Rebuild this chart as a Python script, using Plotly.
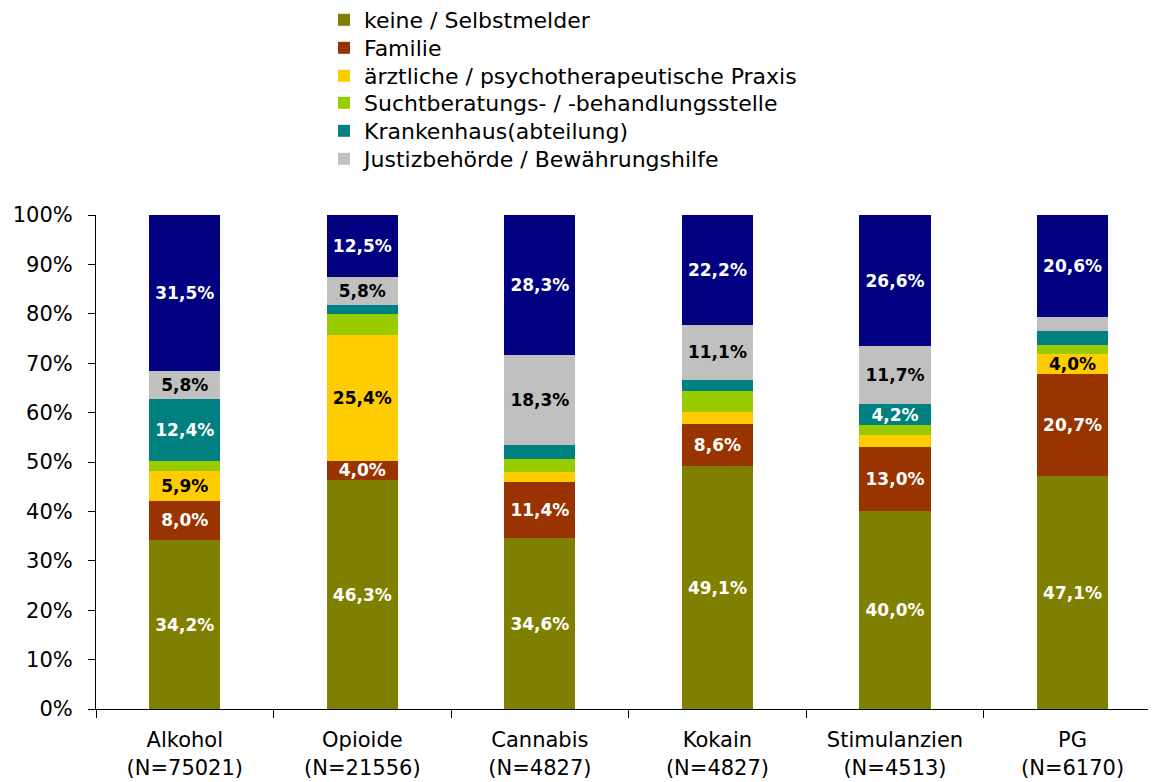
import plotly.graph_objects as go

categories = ["Alkohol", "Opioide", "Cannabis", "Kokain", "Stimulanzien", "PG"]
n_values = [75021, 21556, 4827, 4827, 4513, 6170]

series_names = [
    "keine / Selbstmelder",
    "Familie",
    "ärztliche / psychotherapeutische Praxis",
    "Suchtberatungs- / -behandlungsstelle",
    "Krankenhaus(abteilung)",
    "Justizbehörde / Bewährungshilfe",
    "sonstige",
]
keine = [34.2, 46.3, 34.6, 49.1, 40.0, 47.1]
familie = [8.0, 4.0, 11.4, 8.6, 13.0, 20.7]
praxis = [5.9, 25.4, 2.0, 2.4, 2.4, 4.0]
sucht = [2.2, 4.3, 2.6, 4.3, 2.1, 1.9]
krankenhaus = [12.4, 1.7, 2.8, 2.3, 4.2, 2.8]
justiz = [5.8, 5.8, 18.3, 11.1, 11.7, 2.9]
sonstige = [31.5, 12.5, 28.3, 22.2, 26.6, 20.6]

# which segments carry a data label
show_keine = [1, 1, 1, 1, 1, 1]
show_familie = [1, 1, 1, 1, 1, 1]
show_praxis = [1, 1, 0, 0, 0, 1]
show_sucht = [0, 0, 0, 0, 0, 0]
show_krankenhaus = [1, 0, 0, 0, 1, 0]
show_justiz = [1, 1, 1, 1, 1, 0]
show_sonstige = [1, 1, 1, 1, 1, 1]

colors = ["#808000", "#993300", "#FFCC00", "#99CC00", "#008080", "#C0C0C0", "#000080"]
label_colors = ["white", "white", "black", "black", "white", "black", "white"]

series = [keine, familie, praxis, sucht, krankenhaus, justiz, sonstige]
shows = [show_keine, show_familie, show_praxis, show_sucht, show_krankenhaus, show_justiz, show_sonstige]

FONT = "DejaVu Sans, Liberation Sans, sans-serif"

# page geometry (page is offset by 8px)
PLOT_LEFT, PLOT_RIGHT, PLOT_TOP, PLOT_BOTTOM = 96, 1156, 215, 709
legend_x_px = 324
legend_rows_px = [20, 48, 76, 103, 131, 159]


def px_to_paper_x(px):
    return (px - PLOT_LEFT) / (PLOT_RIGHT - PLOT_LEFT)


def px_to_paper_y(py):
    return (PLOT_BOTTOM - py) / (PLOT_BOTTOM - PLOT_TOP)


fig = go.Figure()
legend_ids = ["legend", "legend2", "legend3", "legend4", "legend5", "legend6"]
for i, (name, vals, show, col, lcol) in enumerate(zip(series_names, series, shows, colors, label_colors)):
    texts = [(f"{v:.1f}%".replace(".", ",") if s else "") for v, s in zip(vals, show)]
    kw = {}
    if i < len(legend_ids):
        kw["legend"] = legend_ids[i]
    fig.add_trace(go.Bar(
        x=categories,
        y=vals,
        name=name,
        marker=dict(color=col, line=dict(width=0)),
        text=texts,
        textposition="inside",
        insidetextanchor="middle",
        textangle=0,
        constraintext="none",
        textfont=dict(family=FONT, size=17, color=lcol, weight="bold"),
        showlegend=(i < len(legend_ids)),
        hoverinfo="x+y+name",
        **kw,
    ))

ticktext = [f"{c}<br>(N={n})" for c, n in zip(categories, n_values)]

layout_legends = {}
for lid, row in zip(legend_ids, legend_rows_px):
    layout_legends[lid] = dict(
        x=px_to_paper_x(legend_x_px), y=px_to_paper_y(row),
        xanchor="left", yanchor="middle",
        font=dict(family=FONT, size=22, color="black"),
        itemwidth=30,
        bgcolor="rgba(0,0,0,0)",
        borderwidth=0,
    )

fig.update_layout(
    barmode="stack",
    bargap=0.6,
    width=1148,
    height=774,
    margin=dict(l=88, r=0, t=207, b=73, autoexpand=False),
    plot_bgcolor="white",
    paper_bgcolor="white",
    font=dict(family=FONT, size=21, color="black"),
    xaxis=dict(
        type="category",
        range=[-0.5, 5.47],
        tickmode="array",
        tickvals=categories,
        ticktext=ticktext,
        tickson="boundaries",
        ticks="outside",
        ticklen=8,
        tickcolor="black",
        showline=True,
        linecolor="black",
        linewidth=1,
        showgrid=False,
        ticklabelstandoff=12,
        tickfont=dict(family=FONT, size=21, color="black"),
    ),
    yaxis=dict(
        range=[0, 100],
        tickmode="array",
        tickvals=[0, 10, 20, 30, 40, 50, 60, 70, 80, 90, 100],
        ticktext=[f"{v}%" for v in range(0, 101, 10)],
        ticks="outside",
        ticklen=7,
        tickcolor="black",
        showline=True,
        linecolor="black",
        linewidth=1,
        showgrid=False,
        zeroline=False,
        ticklabelstandoff=11,
        tickfont=dict(family=FONT, size=21, color="black"),
    ),
    **layout_legends,
)

fig.write_html("out.html")
